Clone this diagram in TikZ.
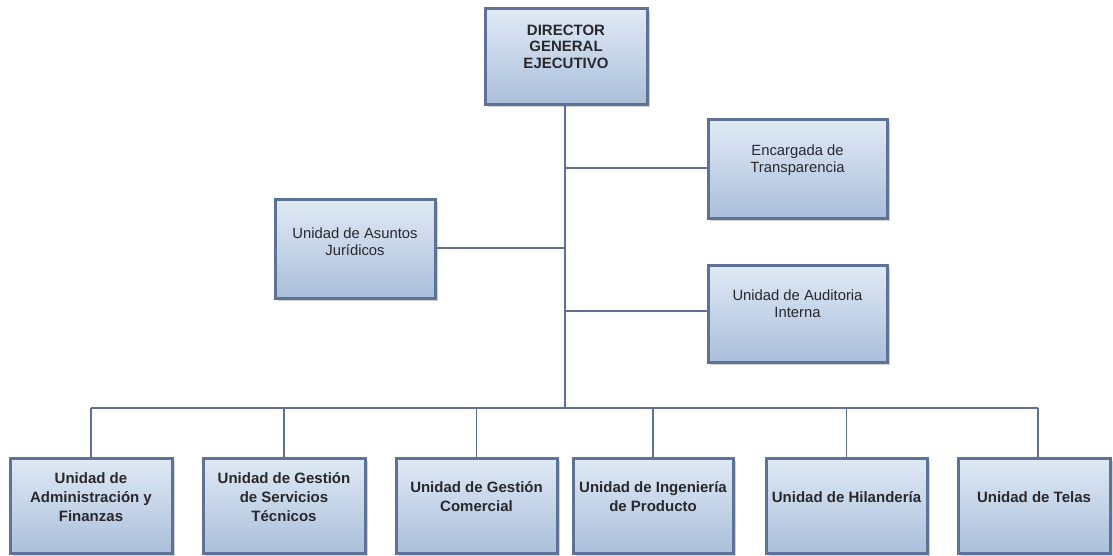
\documentclass[tikz,border=0pt]{standalone}
\usepackage{fontspec}
\setmainfont{Liberation Sans}
\usetikzlibrary{shadows,calc}
\definecolor{bordc}{RGB}{92,114,150}
\definecolor{linec}{RGB}{96,110,145}
\definecolor{topc}{RGB}{224,233,245}
\definecolor{botc}{RGB}{170,191,219}
\definecolor{txtc}{RGB}{40,40,45}
\begin{document}
\begin{tikzpicture}[x=1pt,y=-1pt,
  orgbox/.style={draw=bordc, line width=3pt, top color=topc, bottom color=botc,
    rectangle, inner sep=0pt,
    drop shadow={shadow xshift=2.5pt, shadow yshift=-2.5pt, opacity=0.35}},
  boldtxt/.style={align=center, text=txtc, font=\fontsize{15}{19}\selectfont\bfseries},
  dirtxt/.style={align=center, text=txtc, font=\fontsize{15}{16.5}\selectfont\bfseries},
  regtxt/.style={align=center, text=txtc, font=\fontsize{14.8}{17}\selectfont},
  conn/.style={draw=linec, line width=1.8pt}]
\useasboundingbox (0,0) rectangle (1113,556);

% boxes
\node[orgbox, minimum width=162pt, minimum height=96pt] (dir) at (566,57) {};
\node[orgbox, minimum width=179pt, minimum height=98pt] (enc) at (797.5,169) {};
\node[orgbox, minimum width=160pt, minimum height=98pt] (jur) at (355,249) {};
\node[orgbox, minimum width=179pt, minimum height=97pt] (aud) at (797.5,313.5) {};
\foreach \n/\x/\w in {b1/91/162, b2/284/162, b3/476.5/161, b4/653/160, b5/846.5/161, b6/1034/152}{
  \node[orgbox, minimum width=\w pt, minimum height=95pt] (\n) at (\x,505.5) {};
}

% texts
\node[dirtxt] (tdir) at (566,46.5) {DIRECTOR\\GENERAL\\EJECUTIVO};
\node[regtxt] (tenc) at (797.5,160.5) {Encargada de\\Transparencia};
\node[regtxt] (tjur) at (355,241.5) {Unidad de Asuntos\\Jurídicos};
\node[regtxt] (taud) at (797.5,303.5) {Unidad de Auditoria\\Interna};
\node[boldtxt] (t1) at (91,497) {Unidad de\\Administración y\\Finanzas};
\node[boldtxt] (t2) at (284,497) {Unidad de Gestión\\de Servicios\\Técnicos};
\node[boldtxt] (t3) at (476.5,497) {Unidad de Gestión\\Comercial};
\node[boldtxt] (t4) at (653,497) {Unidad de Ingeniería\\de Producto};
\node[boldtxt] (t5) at (846.5,497) {Unidad de Hilandería};
\node[boldtxt] (t6) at (1034,497) {Unidad de Telas};

% connectors
\coordinate (bus) at (565,408);
\coordinate (busL) at (91,408);
\coordinate (busR) at (1038,408);
\draw[conn] (dir.south -| bus) -- (bus);
\draw[conn] (565,168) -- (enc.west |- 0,168);
\draw[conn] (565,248) -- (jur.east |- 0,248);
\draw[conn] (565,311) -- (aud.west |- 0,311);
\draw[conn] (busL) -- (busR);
\draw[conn] (busL) -- (b1.north);
\draw[conn] (b2.north |- bus) -- (b2.north);
\draw[conn] (b3.north |- bus) -- (b3.north);
\draw[conn] (b4.north |- bus) -- (b4.north);
\draw[conn] (b5.north |- bus) -- (b5.north);
\draw[conn] (busR) -- (busR |- b6.north);
\end{tikzpicture}
\end{document}
